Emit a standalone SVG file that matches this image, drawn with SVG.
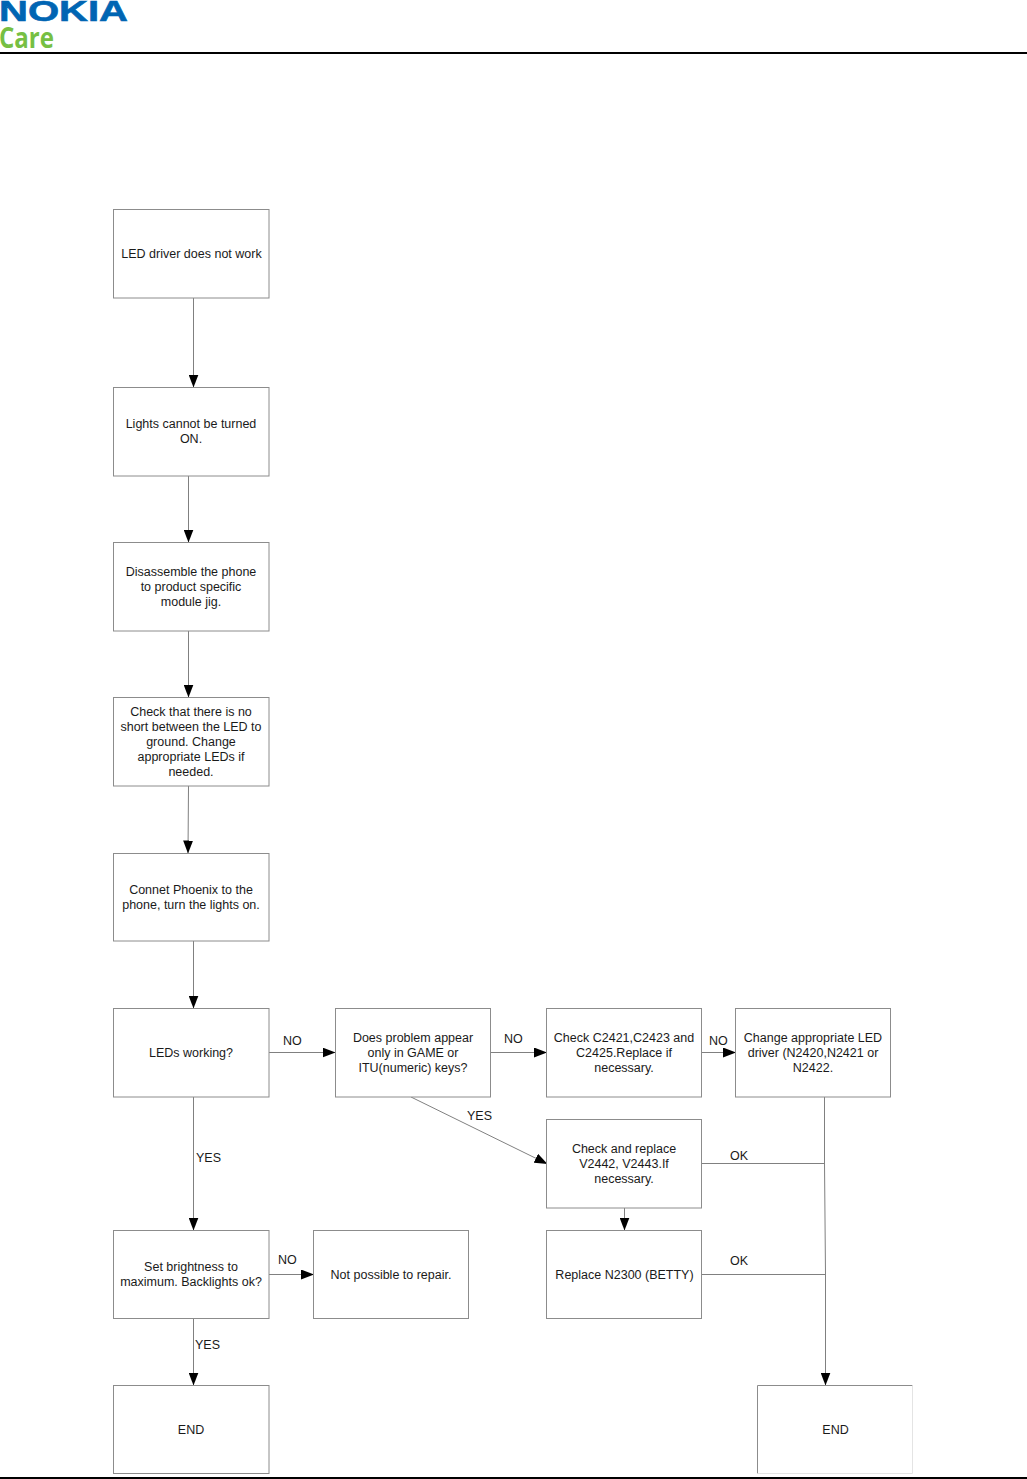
<svg xmlns="http://www.w3.org/2000/svg" width="1027" height="1479" viewBox="0 0 1027 1479">
<style>
.box{fill:#fff;stroke:#8c8c8c;stroke-width:1}
.t{font-family:"Liberation Sans",Arial,sans-serif;font-size:12.5px;fill:#1a1a1a;text-anchor:middle}
.l{font-family:"Liberation Sans",Arial,sans-serif;font-size:12.5px;fill:#1a1a1a}
.c{fill:none;stroke:#808080;stroke-width:1}
.a{marker-end:url(#arr)}
</style>
<defs>
<marker id="arr" markerUnits="userSpaceOnUse" markerWidth="14" markerHeight="10" refX="13" refY="5" orient="auto"><path d="M0 0L13 5L0 10Z" fill="#000"/></marker>
</defs>
<rect width="1027" height="1479" fill="#fff"/>
<g id="header">
<text x="-1" y="21" font-family="Liberation Sans,Arial,sans-serif" font-weight="700" font-size="29" stroke="#0065b3" stroke-width="0.6" fill="#0065b3" textLength="129" lengthAdjust="spacingAndGlyphs">NOKIA</text>
<text x="-1" y="48" font-family="Open Sans,sans-serif" font-weight="700" font-size="28" fill="#76bf43" textLength="55" lengthAdjust="spacingAndGlyphs">Care</text>
<rect x="0" y="52" width="1027" height="2" fill="#000"/>
<rect x="0" y="1477" width="1027" height="2" fill="#000"/>
</g>
<g id="connectors">
<path class="c a" d="M193.500 298V387.500"/>
<path class="c a" d="M188.500 476V542.500"/>
<path class="c a" d="M188.500 631V697.500"/>
<path class="c a" d="M188.500 786L188 853.500"/>
<path class="c a" d="M193.500 941V1008.500"/>
<path class="c a" d="M269 1052.500H335.500"/>
<path class="c a" d="M490 1052.500H547"/>
<path class="c a" d="M701 1052.500H736"/>
<path class="c a" d="M411 1097L547.500 1164"/>
<path class="c a" d="M193.500 1097V1230.500"/>
<path class="c a" d="M624.500 1208V1230.500"/>
<path class="c a" d="M269 1274.500H314"/>
<path class="c a" d="M193.500 1319V1385.500"/>
<path class="c" d="M701 1163.500H825"/>
<path class="c" d="M701 1274.500H825.500"/>
<path class="c a" d="M824.500 1097V1163L825.500 1274V1385.500"/>
</g>
<g id="n1"><rect class="box" x="113.500" y="209.500" width="155.500" height="88.500"/><text class="t" x="191.500" y="258">LED driver does not work</text></g>
<g id="n2"><rect class="box" x="113.500" y="387.500" width="155.500" height="88.500"/><text class="t" x="191" y="428">Lights cannot be turned</text><text class="t" x="191" y="443">ON.</text></g>
<g id="n3"><rect class="box" x="113.500" y="542.500" width="155.500" height="88.500"/><text class="t" x="191" y="576">Disassemble the phone</text><text class="t" x="191" y="591">to product specific</text><text class="t" x="191" y="606">module jig.</text></g>
<g id="n4"><rect class="box" x="113.500" y="697.500" width="155.500" height="88.500"/><text class="t" x="191" y="716">Check that there is no</text><text class="t" x="191" y="731">short between the LED to</text><text class="t" x="191" y="746">ground. Change</text><text class="t" x="191" y="761">appropriate LEDs if</text><text class="t" x="191" y="776">needed.</text></g>
<g id="n5"><rect class="box" x="113.500" y="853.500" width="155.500" height="87.500"/><text class="t" x="191" y="894">Connet Phoenix to the</text><text class="t" x="191" y="909">phone, turn the lights on.</text></g>
<g id="n6"><rect class="box" x="113.500" y="1008.500" width="155.500" height="88.500"/><text class="t" x="191" y="1057">LEDs working?</text></g>
<g id="n7"><rect class="box" x="335.500" y="1008.500" width="155" height="88.500"/><text class="t" x="413" y="1042">Does problem appear</text><text class="t" x="413" y="1057">only in GAME or</text><text class="t" x="413" y="1072">ITU(numeric) keys?</text></g>
<g id="n8"><rect class="box" x="546.500" y="1008.500" width="155" height="88.500"/><text class="t" x="624" y="1042">Check C2421,C2423 and</text><text class="t" x="624" y="1057">C2425.Replace if</text><text class="t" x="624" y="1072">necessary.</text></g>
<g id="n9"><rect class="box" x="735.500" y="1008.500" width="155" height="88.500"/><text class="t" x="813" y="1042">Change appropriate LED</text><text class="t" x="813" y="1057">driver (N2420,N2421 or</text><text class="t" x="813" y="1072">N2422.</text></g>
<g id="n10"><rect class="box" x="546.500" y="1119.500" width="155" height="88.500"/><text class="t" x="624" y="1153">Check and replace</text><text class="t" x="624" y="1168">V2442, V2443.If</text><text class="t" x="624" y="1183">necessary.</text></g>
<g id="n11"><rect class="box" x="113.500" y="1230.500" width="155.500" height="88"/><text class="t" x="191" y="1271">Set brightness to</text><text class="t" x="191" y="1286">maximum. Backlights ok?</text></g>
<g id="n12"><rect class="box" x="313.500" y="1230.500" width="155" height="88"/><text class="t" x="391" y="1279">Not possible to repair.</text></g>
<g id="n13"><rect class="box" x="546.500" y="1230.500" width="155" height="88"/><text class="t" x="624.500" y="1279">Replace N2300 (BETTY)</text></g>
<g id="n14"><rect class="box" x="113.500" y="1385.500" width="155.500" height="88"/><text class="t" x="191" y="1434">END</text></g>
<g id="n15"><path d="M912.500 1385.500H757.500V1473.500" fill="none" stroke="#8c8c8c"/><path d="M757.500 1473.500H912.500V1385.500" fill="none" stroke="#e4e4e4"/><text class="t" x="835.500" y="1434">END</text></g>
<g id="labels">
<text class="l" x="283" y="1045">NO</text>
<text class="l" x="504" y="1043">NO</text>
<text class="l" x="709" y="1045">NO</text>
<text class="l" x="467" y="1120">YES</text>
<text class="l" x="196" y="1162">YES</text>
<text class="l" x="730" y="1159.500">OK</text>
<text class="l" x="278" y="1263.500">NO</text>
<text class="l" x="730" y="1264.500">OK</text>
<text class="l" x="195" y="1348.500">YES</text>
</g>
</svg>
